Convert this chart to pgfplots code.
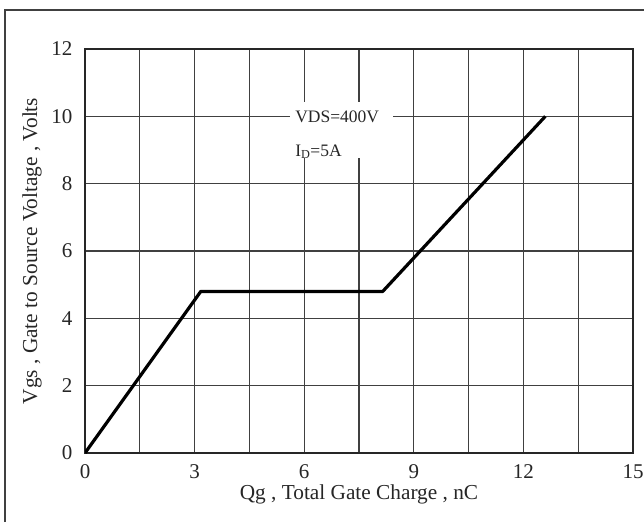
\documentclass[border=0pt]{standalone}
\usepackage{pgfplots}
\pgfplotsset{compat=1.18}
\usepackage{fontspec}
\setmainfont{Liberation Serif}
\begin{document}
\begin{tikzpicture}[x=1pt,y=1pt]
\path[use as bounding box] (0,0) rectangle (644,522);
\draw[line width=1.5pt, black!75] (5,0) -- (5,512) -- (644,512);
\begin{axis}[
  at={(85pt,69pt)}, anchor=south west,
  scale only axis, width=548pt, height=404pt,
  xmin=0, xmax=15, ymin=0, ymax=12,
  xtick={0,3,...,15}, minor xtick={1.5,4.5,...,13.5},
  ytick={0,2,...,12},
  xmajorgrids=true, xminorgrids=true, ymajorgrids=true,
  major grid style={line width=1.2pt, black!75},
  minor grid style={line width=1.2pt, black!75},
  major tick length=0pt, minor tick length=0pt,
  axis line style={line width=1.8pt, black!85},
  /pgf/number format/assume math mode=true,
  ticklabel style={font=\fontsize{21}{24}\selectfont, text=black!85},
  xticklabel style={yshift=-8pt},
  yticklabel style={xshift=-9pt},
  xlabel={Qg , Total Gate Charge , nC},
  ylabel={Vgs , Gate to Source Voltage , Volts},
  label style={font=\fontsize{21.3}{24}\selectfont, text=black!85},
  xlabel style={yshift=1pt},
  ylabel style={yshift=3pt},
]
\addplot[line width=3.2pt, black, line join=round] coordinates {(0,0) (3.17,4.8) (8.15,4.8) (12.6,10)};
\fill[white] (axis cs:5.61,8.76) rectangle (axis cs:8.43,10.42);
\node[anchor=west, inner sep=0pt, font=\fontsize{17.5}{20}\selectfont, text=black!85] at (axis cs:5.75,10) {VDS=400V};
\node[anchor=west, inner sep=0pt, font=\fontsize{17.5}{20}\selectfont, text=black!85] at (axis cs:5.75,8.95) {I\textsubscript{D}=5A};
\end{axis}
\end{tikzpicture}
\end{document}
